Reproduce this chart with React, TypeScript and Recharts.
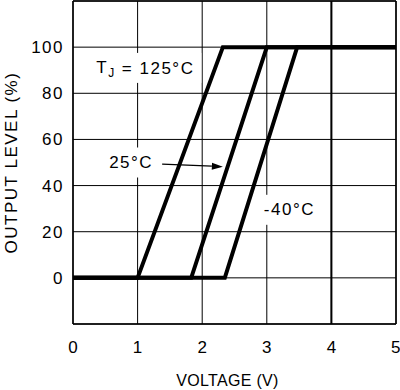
import {
  LineChart,
  Line,
  XAxis,
  YAxis,
  CartesianGrid,
  ReferenceLine,
  ReferenceDot,
} from "recharts";

// output level vs voltage, one set per junction temperature
const HOT_V = [0, 1, 2.32, 5];
const HOT_LEVEL = [0, 0, 100, 100];
const ROOM_V = [0, 1.83, 3, 5];
const ROOM_LEVEL = [0, 0, 100, 100];
const COLD_V = [0, 2.35, 3.47, 5];
const COLD_LEVEL = [0, 0, 100, 100];

const X_TICKS = [0, 1, 2, 3, 4, 5];
const Y_TICKS = [0, 20, 40, 60, 80, 100];

const zip = (v: number[], l: number[]) => v.map((x, i) => ({ v: x, level: l[i] }));

const hot = zip(HOT_V, HOT_LEVEL);
const room = zip(ROOM_V, ROOM_LEVEL);
const cold = zip(COLD_V, COLD_LEVEL);

const FONT = "'Liberation Sans', Arial, sans-serif";

function BoxedText({ cx, cy, w, children }: any) {
  return (
    <g>
      <rect x={cx - w / 2} y={cy - 15} width={w} height={30} fill="#fff" />
      <text
        x={cx}
        y={cy}
        textAnchor="middle"
        dominantBaseline="central"
        fontFamily={FONT}
        fontSize={17}
        letterSpacing={1.5}
        fill="#000"
      >
        {children}
      </text>
    </g>
  );
}

function Arrow(props: any) {
  const { x1, y1, x2, y2 } = props;
  const a = Math.atan2(y2 - y1, x2 - x1);
  const len = 11;
  const hw = 3.5;
  const bx = x2 - len * Math.cos(a);
  const by = y2 - len * Math.sin(a);
  const px = -Math.sin(a) * hw;
  const py = Math.cos(a) * hw;
  return (
    <g>
      <line x1={x1} y1={y1} x2={bx} y2={by} stroke="#000" strokeWidth={1.2} />
      <polygon
        points={`${x2},${y2} ${bx + px},${by + py} ${bx - px},${by - py}`}
        fill="#000"
      />
    </g>
  );
}

export default function App() {
  return (
    <div style={{ width: 400, height: 390, background: "#fff" }}>
      <style>{`body{margin:0}`}</style>
      <LineChart
        width={400}
        height={390}
        margin={{ top: 1, right: 4, bottom: 0, left: 0 }}
      >
        <CartesianGrid stroke="#000" strokeWidth={1} />
        <XAxis
          dataKey="v"
          type="number"
          domain={[0, 5]}
          ticks={X_TICKS}
          height={66}
          tickLine={false}
          tickMargin={11}
          axisLine={{ stroke: "#000", strokeWidth: 1.5 }}
          tick={{ fill: "#000", fontSize: 17, fontFamily: FONT }}
          allowDataOverflow
          label={{
            value: "VOLTAGE (V)",
            position: "insideBottom",
            offset: 4,
            dx: -7,
            fill: "#000",
            fontSize: 16,
            fontFamily: FONT,
            letterSpacing: 0.3,
          }}
        />
        <YAxis
          type="number"
          domain={[-20, 120]}
          ticks={Y_TICKS}
          width={73}
          tickLine={false}
          tickMargin={3}
          axisLine={{ stroke: "#000", strokeWidth: 1.5 }}
          tick={{ fill: "#000", fontSize: 17, fontFamily: FONT, letterSpacing: 1.5 }}
          allowDataOverflow
          label={{
            value: "OUTPUT LEVEL (%)",
            angle: -90,
            position: "insideLeft",
            offset: 11,
            fill: "#000",
            fontSize: 17,
            fontFamily: FONT,
            letterSpacing: 1.5,
            style: { textAnchor: "middle" },
          }}
        />
        <ReferenceLine y={120} stroke="#000" strokeWidth={1.5} />
        <ReferenceLine x={5} stroke="#000" strokeWidth={1.5} />
        <ReferenceLine x={4} stroke="#000" strokeWidth={2} />

        <ReferenceDot
          x={1.12}
          y={91}
          r={0}
          shape={(p: any) => (
            <BoxedText cx={p.cx} cy={p.cy} w={112}>
              T
              <tspan fontSize={12} dy={5}>
                J
              </tspan>
              <tspan dy={-5}> = 125°C</tspan>
            </BoxedText>
          )}
        />
        <ReferenceDot
          x={0.9}
          y={50}
          r={0}
          shape={(p: any) => (
            <BoxedText cx={p.cx} cy={p.cy} w={50}>
              25°C
            </BoxedText>
          )}
        />
        <ReferenceDot
          x={3.35}
          y={29.5}
          r={0}
          shape={(p: any) => (
            <BoxedText cx={p.cx} cy={p.cy} w={60}>
              -40°C
            </BoxedText>
          )}
        />
        <ReferenceLine
          segment={[
            { x: 1.38, y: 49.3 },
            { x: 2.32, y: 48.2 },
          ]}
          shape={Arrow}
        />

        <Line
          data={hot}
          dataKey="level"
          type="linear"
          stroke="#000"
          strokeWidth={4}
          dot={false}
          isAnimationActive={false}
        />
        <Line
          data={room}
          dataKey="level"
          type="linear"
          stroke="#000"
          strokeWidth={4}
          dot={false}
          isAnimationActive={false}
        />
        <Line
          data={cold}
          dataKey="level"
          type="linear"
          stroke="#000"
          strokeWidth={4}
          dot={false}
          isAnimationActive={false}
        />
      </LineChart>
    </div>
  );
}
